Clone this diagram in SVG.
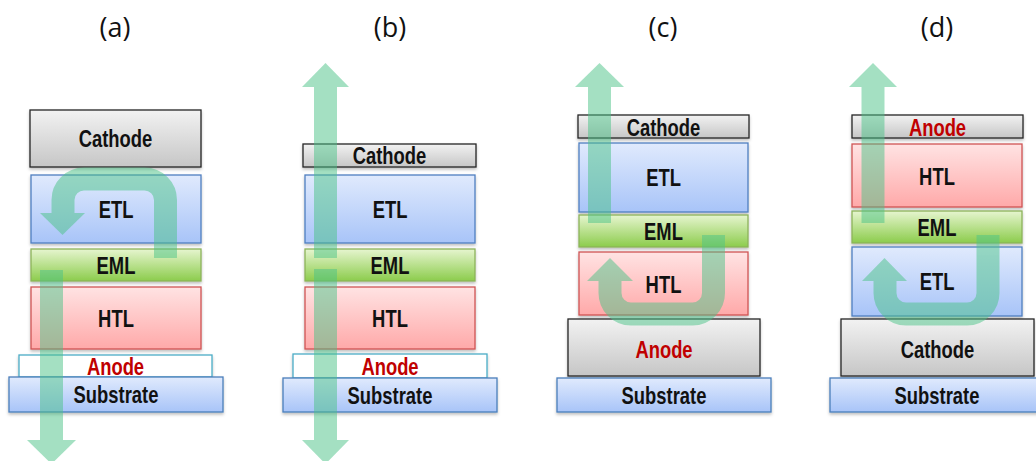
<svg xmlns="http://www.w3.org/2000/svg" width="1036" height="461" viewBox="0 0 1036 461">
<defs>
<linearGradient id="gGray" x1="0" y1="0" x2="0" y2="1"><stop offset="0" stop-color="#f2f2f2"/><stop offset="1" stop-color="#c6c6c6"/></linearGradient>
<linearGradient id="gBlue" x1="0" y1="0" x2="0" y2="1"><stop offset="0" stop-color="#e0eafd"/><stop offset="1" stop-color="#a8c4f8"/></linearGradient>
<linearGradient id="gGreen" x1="0" y1="0" x2="0" y2="1"><stop offset="0" stop-color="#e6f5cf"/><stop offset="1" stop-color="#8ccc4c"/></linearGradient>
<linearGradient id="gRed" x1="0" y1="0" x2="0" y2="1"><stop offset="0" stop-color="#ffe3e3"/><stop offset="1" stop-color="#ffa9a9"/></linearGradient>
<filter id="sh" x="-10%" y="-20%" width="120%" height="160%"><feDropShadow dx="0" dy="2" stdDeviation="1.5" flood-color="#000" flood-opacity="0.25"/></filter>
</defs>
<style>
.title{font-family:"Open Sans","Liberation Sans",Arial,sans-serif;font-size:27px;fill:#111;text-anchor:middle}
.lbl{font-family:"Liberation Sans",Arial,sans-serif;font-weight:bold;font-size:23px;fill:#111;text-anchor:middle}
.red{fill:#c00000}
.cath{fill:url(#gGray);stroke:#262626;stroke-width:1.3;filter:url(#sh)}
.etl{fill:url(#gBlue);stroke:#4f7fc0;stroke-width:1.3;filter:url(#sh)}
.eml{fill:url(#gGreen);stroke:#8db35a;stroke-width:1.3;filter:url(#sh)}
.htl{fill:url(#gRed);stroke:#cf5454;stroke-width:1.3;filter:url(#sh)}
.ano{fill:#ffffff;stroke:#4bacc6;stroke-width:1.3;filter:url(#sh)}
.sub{fill:url(#gBlue);stroke:#4a7ebb;stroke-width:1.3;filter:url(#sh)}
.arr{opacity:0.5}
.arr path{fill:none;stroke:#4bc387;stroke-width:23}
.arr polygon{fill:#4bc387}
</style>
<rect width="1036" height="461" fill="#ffffff"/>
<g id="titles">
<text class="title" x="115" y="37">(a)</text>
<text class="title" x="390" y="37">(b)</text>
<text class="title" x="663" y="37">(c)</text>
<text class="title" x="937" y="37">(d)</text>
</g>
<!-- Panel (a) -->
<g id="a-cathode"><rect class="cath" x="30" y="110" width="171" height="57"/><text class="lbl" transform="translate(115.5,147) scale(0.8,1)">Cathode</text></g>
<g id="a-etl"><rect class="etl" x="31" y="175" width="170" height="68"/><text class="lbl" transform="translate(116,218) scale(0.8,1)">ETL</text></g>
<g id="a-eml"><rect class="eml" x="31" y="249" width="170" height="32"/><text class="lbl" transform="translate(116,274) scale(0.8,1)">EML</text></g>
<g id="a-htl"><rect class="htl" x="31" y="287" width="170" height="62"/><text class="lbl" transform="translate(116,327) scale(0.8,1)">HTL</text></g>
<g id="a-anode"><rect class="ano" x="19" y="355" width="193" height="22"/><text class="lbl red" transform="translate(115.5,375) scale(0.8,1)">Anode</text></g>
<g id="a-substrate"><rect class="sub" x="9" y="377" width="214" height="35"/><text class="lbl" transform="translate(116,403) scale(0.8,1)">Substrate</text></g>
<!-- Panel (b) -->
<g id="b-cathode"><rect class="cath" x="303" y="144" width="173" height="23"/><text class="lbl" transform="translate(389.5,164) scale(0.8,1)">Cathode</text></g>
<g id="b-etl"><rect class="etl" x="305" y="175" width="170" height="68"/><text class="lbl" transform="translate(390,218) scale(0.8,1)">ETL</text></g>
<g id="b-eml"><rect class="eml" x="305" y="249" width="170" height="32"/><text class="lbl" transform="translate(390,274) scale(0.8,1)">EML</text></g>
<g id="b-htl"><rect class="htl" x="305" y="287" width="170" height="62"/><text class="lbl" transform="translate(390,327) scale(0.8,1)">HTL</text></g>
<g id="b-anode"><rect class="ano" x="293" y="354" width="194" height="24"/><text class="lbl red" transform="translate(390,375) scale(0.8,1)">Anode</text></g>
<g id="b-substrate"><rect class="sub" x="283" y="378" width="214" height="34"/><text class="lbl" transform="translate(390,404) scale(0.8,1)">Substrate</text></g>
<!-- Panel (c) -->
<g id="c-cathode"><rect class="cath" x="578" y="115" width="171" height="23"/><text class="lbl" transform="translate(663.5,136) scale(0.8,1)">Cathode</text></g>
<g id="c-etl"><rect class="etl" x="579" y="143" width="169" height="69"/><text class="lbl" transform="translate(663.5,186) scale(0.8,1)">ETL</text></g>
<g id="c-eml"><rect class="eml" x="579" y="215" width="169" height="32"/><text class="lbl" transform="translate(663.5,240) scale(0.8,1)">EML</text></g>
<g id="c-htl"><rect class="htl" x="579" y="252" width="169" height="63"/><text class="lbl" transform="translate(663.5,293) scale(0.8,1)">HTL</text></g>
<g id="c-anode"><rect class="cath" x="568" y="319" width="192" height="57"/><text class="lbl red" transform="translate(664,358) scale(0.8,1)">Anode</text></g>
<g id="c-substrate"><rect class="sub" x="557" y="378" width="214" height="34"/><text class="lbl" transform="translate(664,404) scale(0.8,1)">Substrate</text></g>
<!-- Panel (d) -->
<g id="d-anode"><rect class="cath" x="852" y="115" width="171" height="23"/><text class="lbl red" transform="translate(937.5,136) scale(0.8,1)">Anode</text></g>
<g id="d-htl"><rect class="htl" x="852" y="144" width="170" height="63"/><text class="lbl" transform="translate(937,185) scale(0.8,1)">HTL</text></g>
<g id="d-eml"><rect class="eml" x="852" y="211" width="170" height="32"/><text class="lbl" transform="translate(937,236) scale(0.8,1)">EML</text></g>
<g id="d-etl"><rect class="etl" x="852" y="247" width="170" height="69"/><text class="lbl" transform="translate(937,290) scale(0.8,1)">ETL</text></g>
<g id="d-cathode"><rect class="cath" x="841" y="319" width="193" height="57"/><text class="lbl" transform="translate(937.5,358) scale(0.8,1)">Cathode</text></g>
<g id="d-substrate"><rect class="sub" x="830" y="378" width="214" height="34"/><text class="lbl" transform="translate(937,404) scale(0.8,1)">Substrate</text></g>
<!-- Connectors (light arrows) -->
<g id="connectors">
<g class="arr"><path d="M165.5,258 V200 A21,21 0 0 0 144.5,179 H84 A21,21 0 0 0 63,200 V213"/><polygon points="40,213 85,213 62.5,235"/></g>
<g class="arr"><path d="M51.5,270 V440"/><polygon points="27,440 76,440 51.5,464"/></g>
<g class="arr"><path d="M325.5,258 V87"/><polygon points="302,87 349,87 325.5,63"/></g>
<g class="arr"><path d="M325.5,269 V440"/><polygon points="302,440 349,440 325.5,464"/></g>
<g class="arr"><path d="M599.5,223 V87"/><polygon points="575,87 624,87 599.5,63"/></g>
<g class="arr"><path d="M713.5,235 V293 A21,21 0 0 1 692.5,314 H631 A21,21 0 0 1 610,293 V281"/><polygon points="587,281 633,281 610,258"/></g>
<g class="arr"><path d="M873,223 V87"/><polygon points="849,87 897,87 873,63"/></g>
<g class="arr"><path d="M988,235 V293 A21,21 0 0 1 967,314 H906 A21,21 0 0 1 885,293 V281"/><polygon points="862,281 907,281 884.5,258"/></g>
</g>
</svg>
